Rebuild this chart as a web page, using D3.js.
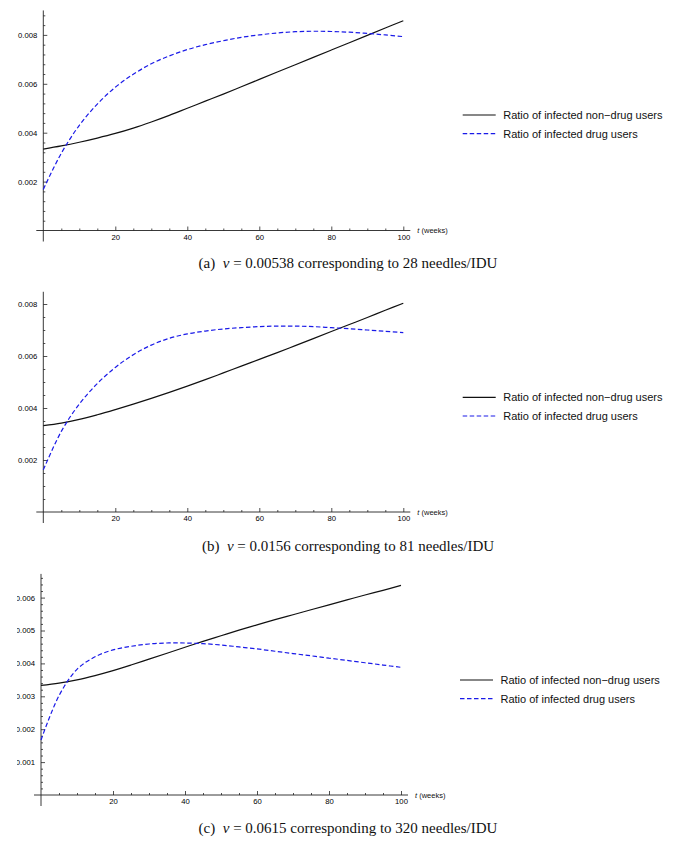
<!DOCTYPE html>
<html>
<head>
<meta charset="utf-8">
<script src="https://cdn.jsdelivr.net/npm/d3@7"></script>
<style>
body { margin: 0; background: #fff; }
svg { display: block; }
.axis text { font-family: "Liberation Sans", Arial, sans-serif; font-size: 7.7px; fill: #000; }
.axis line { stroke: #222; stroke-width: 0.8; }
.legend text { font-family: "Liberation Sans", Arial, sans-serif; font-size: 11px; fill: #111; }
.caption { font-family: "Liberation Serif", "Times New Roman", serif; font-size: 15px; fill: #111; }
</style>
</head>
<body>
<svg id="chart" width="693" height="853"></svg>
<script>
// time points (weeks)
var weeks = [0, 5, 10, 15, 20, 25, 30, 35, 40, 45, 50, 55, 60, 65, 70, 75, 80, 85, 90, 95, 100];

// (a) nu = 0.00538
var nonDrugA = [0.00333, 0.00346, 0.00361, 0.00378, 0.00397, 0.00419, 0.00444, 0.00471, 0.00500, 0.00529, 0.00558, 0.00588,
                0.00618, 0.00648, 0.00678, 0.00708, 0.00738, 0.00768, 0.00798, 0.00828, 0.00858];
var drugA    = [0.00168, 0.00316, 0.00430, 0.00517, 0.00586, 0.00639, 0.00682, 0.00714, 0.00740, 0.00760, 0.00776, 0.00790,
                0.00800, 0.00808, 0.00813, 0.00815, 0.00814, 0.00811, 0.00806, 0.00800, 0.00793];

// (b) nu = 0.0156
var nonDrugB = [0.00332, 0.00342, 0.00356, 0.00374, 0.00394, 0.00415, 0.00437, 0.00460, 0.00484, 0.00509, 0.00535, 0.00561,
                0.00587, 0.00613, 0.00640, 0.00667, 0.00694, 0.00721, 0.00748, 0.00776, 0.00803];
var drugB    = [0.00162, 0.00310, 0.00415, 0.00494, 0.00556, 0.00605, 0.00642, 0.00668, 0.00685, 0.00696, 0.00704, 0.00709,
                0.00713, 0.00715, 0.00715, 0.00713, 0.00709, 0.00705, 0.00700, 0.00695, 0.00690];

// (c) nu = 0.0615
var nonDrugC = [0.00333, 0.00340, 0.00350, 0.00363, 0.00378, 0.00395, 0.00413, 0.00431, 0.00449, 0.00467, 0.00484, 0.00501,
                0.00517, 0.00533, 0.00548, 0.00563, 0.00578, 0.00593, 0.00608, 0.00622, 0.00637];
var drugC    = [0.00167, 0.00302, 0.00382, 0.00420, 0.00441, 0.00452, 0.00459, 0.00462, 0.00462, 0.00460, 0.00456, 0.00450,
                0.00444, 0.00437, 0.00430, 0.00423, 0.00416, 0.00409, 0.00402, 0.00395, 0.00388];

// ticks
var xTicks = [20, 40, 60, 80, 100];
var yTicksA = [0.002, 0.004, 0.006, 0.008];
var yTicksB = [0.002, 0.004, 0.006, 0.008];
var yTicksC = [0.001, 0.002, 0.003, 0.004, 0.005, 0.006];

var legendLabels = ["Ratio of infected non\u2212drug users", "Ratio of infected drug users"];
var captionLetters = ["(a)", "(b)", "(c)"];
var captionNu = ["0.00538", "0.0156", "0.0615"];
var captionNeedles = ["28", "81", "320"];

var BLACK = "#111111";
var BLUE = "#1a1ae8";

var svg = d3.select("#chart");

svg.append("defs").append("clipPath")
    .attr("id", "leftcut")
    .append("rect")
    .attr("x", 17).attr("y", 0).attr("width", 676).attr("height", 853);

function drawPanel(p)
{
    var x = d3.scaleLinear().domain([0, 100]).range([p.x0, p.x0 + 360]);
    var y = d3.scaleLinear().domain([0, p.yTop]).range([p.y0, p.y0 - p.yTop * p.k]);

    var g = svg.append("g");
    //the third plot has its tick labels cut off at the left edge
    if (p.cut) g.attr("clip-path", "url(#leftcut)");

    // axis lines (extend a little past the data range like the original)
    g.append("line")
        .attr("x1", p.x0 - 7).attr("x2", x(100) + 7)
        .attr("y1", p.y0).attr("y2", p.y0)
        .attr("stroke", "#222").attr("stroke-width", 0.9);
    g.append("line")
        .attr("x1", p.x0).attr("x2", p.x0)
        .attr("y1", p.y0 + 11).attr("y2", y(p.yTop))
        .attr("stroke", "#222").attr("stroke-width", 0.9);

    // x axis
    var xMinor = d3.range(5, 101, 5).filter(function(d) { return d % 20 != 0; });
    g.append("g")
        .attr("class", "axis")
        .attr("transform", "translate(0," + p.y0 + ")")
        .call(d3.axisBottom(x).tickValues(xMinor).tickSizeInner(-2).tickSizeOuter(0).tickFormat(""))
        .call(function(s) { s.select(".domain").remove(); });
    g.append("g")
        .attr("class", "axis")
        .attr("transform", "translate(0," + p.y0 + ")")
        .call(d3.axisBottom(x).tickValues(xTicks).tickSizeInner(-4).tickSizeOuter(0).tickPadding(4).tickFormat(d3.format("d")))
        .call(function(s) { s.select(".domain").remove(); });

    // y axis
    var yMinor = d3.range(p.minorStep, p.yTop + 1e-9, p.minorStep).filter(function(d) {
        return p.yTicks.every(function(t) { return Math.abs(t - d) > 1e-9; });
    });
    g.append("g")
        .attr("class", "axis")
        .attr("transform", "translate(" + p.x0 + ",0)")
        .call(d3.axisLeft(y).tickValues(yMinor).tickSizeInner(-2).tickSizeOuter(0).tickFormat(""))
        .call(function(s) { s.select(".domain").remove(); });
    g.append("g")
        .attr("class", "axis")
        .attr("transform", "translate(" + p.x0 + ",0)")
        .call(d3.axisLeft(y).tickValues(p.yTicks).tickSizeInner(-4).tickSizeOuter(0).tickPadding(6).tickFormat(d3.format(".3f")))
        .call(function(s) { s.select(".domain").remove(); });

    // axis label
    var lab = g.append("text")
        .attr("x", x(100) + 14).attr("y", p.y0 + 2.5)
        .attr("font-family", "Liberation Sans, Arial, sans-serif")
        .attr("font-size", 7.5).attr("fill", "#111");
    lab.append("tspan").attr("font-style", "italic").text("t");
    lab.append("tspan").text(" (weeks)");

    // curves
    var line = d3.line()
        .x(function(d, i) { return x(weeks[i]); })
        .y(function(d) { return y(d); })
        .curve(d3.curveCatmullRom.alpha(0.5));

    g.append("path")
        .datum(p.nonDrug)
        .attr("fill", "none")
        .attr("stroke", BLACK)
        .attr("stroke-width", 1.2)
        .attr("d", line);

    g.append("path")
        .datum(p.drug)
        .attr("fill", "none")
        .attr("stroke", BLUE)
        .attr("stroke-width", 1.2)
        .attr("stroke-dasharray", "4.5,2.5")
        .attr("d", line);

    // legend
    var lg = g.append("g").attr("class", "legend");
    [0, 1].forEach(function(i) {
        var ly = p.legendY + i * 18.7;
        lg.append("line")
            .attr("x1", p.legendX).attr("x2", p.legendX + 33)
            .attr("y1", ly).attr("y2", ly)
            .attr("stroke", i == 0 ? BLACK : BLUE)
            .attr("stroke-width", 1.2)
            .attr("stroke-dasharray", i == 0 ? null : "4.5,2.5");
        lg.append("text")
            .attr("x", p.legendX + 40.5).attr("y", ly + 4)
            .text(legendLabels[i]);
    });

    // caption
    var cap = g.append("text")
        .attr("class", "caption")
        .attr("x", 348).attr("y", p.captionY)
        .attr("text-anchor", "middle");
    cap.append("tspan").text(captionLetters[p.idx] + "\u2002");
    cap.append("tspan").attr("font-style", "italic").text("\u03bd");
    cap.append("tspan").text(" = " + captionNu[p.idx] + " corresponding to " + captionNeedles[p.idx] + " needles/IDU");
}

drawPanel({ idx: 0, x0: 43.3, y0: 230.5, k: 24450, yTop: 0.0090, minorStep: 0.0004, yTicks: yTicksA,
            nonDrug: nonDrugA, drug: drugA, legendX: 462.7, legendY: 115, captionY: 268, cut: false });
drawPanel({ idx: 1, x0: 43.3, y0: 512, k: 26000, yTop: 0.00847, minorStep: 0.0005, yTicks: yTicksB,
            nonDrug: nonDrugB, drug: drugB, legendX: 462.7, legendY: 397.3, captionY: 551, cut: false });
drawPanel({ idx: 2, x0: 41, y0: 795, k: 32900, yTop: 0.00672, minorStep: 0.0002, yTicks: yTicksC,
            nonDrug: nonDrugC, drug: drugC, legendX: 460, legendY: 680, captionY: 833, cut: true });
</script>
</body>
</html>
